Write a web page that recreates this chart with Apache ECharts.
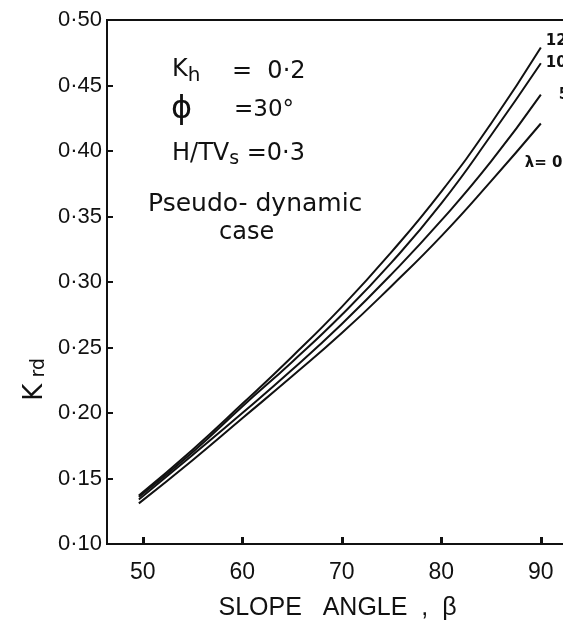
<!DOCTYPE html>
<html><head><meta charset="utf-8">
<script src="https://cdn.jsdelivr.net/npm/echarts@6/dist/echarts.min.js"></script>
<style>html,body{margin:0;padding:0;background:#fff}#c{width:563px;height:620px}</style>
</head><body><div id="c"></div>
<script>
const betaValues = [49.6, 55, 60, 65, 70, 75, 80, 85, 90];
const kLambda12 = [0.137, 0.172, 0.207, 0.243, 0.281, 0.323, 0.369, 0.421, 0.479];
const kLambda10 = [0.136, 0.170, 0.205, 0.239, 0.275, 0.315, 0.360, 0.412, 0.467];
const kLambda5  = [0.134, 0.168, 0.200, 0.233, 0.268, 0.306, 0.347, 0.392, 0.443];
const kLambda0  = [0.131, 0.164, 0.196, 0.228, 0.261, 0.297, 0.335, 0.377, 0.421];
const curveLabels = ['12', '10', '5', 'λ= 0'];
const xTicks = [50, 60, 70, 80, 90];
const yTickLabels = ['0·10','0·15','0·20','0·25','0·30','0·35','0·40','0·45','0·50'];

const FONT = 'DejaVu Sans';
const TICKFONT = 'Liberation Sans';
const chart = echarts.init(document.getElementById('c'), null, {renderer: 'canvas'});
const allK = [kLambda12, kLambda10, kLambda5, kLambda0];
const labelOffsets = [[-3, -6], [-3, 0], [10, 0], [-24, 40]];

const series = allK.map((arr, i) => ({
  type: 'line',
  name: curveLabels[i],
  data: betaValues.map((b, j) => [b, arr[j]]),
  smooth: true,
  showSymbol: false,
  lineStyle: {color: '#111', width: 2},
  endLabel: {
    show: true,
    formatter: curveLabels[i],
    color: '#111',
    fontFamily: FONT,
    fontSize: 15,
    fontWeight: 'bold',
    offset: labelOffsets[i]
  },
  labelLayout: {hideOverlap: false},
  animation: false
}));

chart.setOption({
  backgroundColor: '#fff',
  animation: false,
  grid: {left: 107, right: -5, top: 20, bottom: 76, show: true, borderColor: '#111', borderWidth: 2,
    containLabel: false, outerBoundsMode: 'none'},
  xAxis: {
    type: 'value', min: 46.4, max: 92.73,
    axisLine: {show: true, lineStyle: {color: '#111', width: 2}},
    axisTick: {show: true, inside: true, length: 7, lineStyle: {color: '#111', width: 3}, customValues: xTicks},
    axisLabel: {customValues: xTicks, color: '#111', fontFamily: TICKFONT, fontSize: 23, margin: 17},
    splitLine: {show: false},
    name: 'SLOPE   ANGLE  ,  β',
    nameLocation: 'middle', nameGap: 52,
    nameTextStyle: {color: '#111', fontFamily: TICKFONT, fontSize: 25}
  },
  yAxis: {
    type: 'value', min: 0.10, max: 0.50, interval: 0.05,
    axisLine: {show: true, lineStyle: {color: '#111', width: 2}},
    axisTick: {show: true, inside: true, length: 6, lineStyle: {color: '#111', width: 2}},
    axisLabel: {color: '#111', fontFamily: TICKFONT, fontSize: 22, margin: 5,
      formatter: v => yTickLabels[Math.round((v - 0.10) / 0.05)]},
    splitLine: {show: false}
  },
  graphic: [
    {type: 'text', left: 22, top: 358, rotation: Math.PI / 2,
      style: {text: '{k|K}{s| rd}', rich: {k: {fontSize: 26, fontFamily: FONT, fill: '#111'}, s: {fontSize: 19, fontFamily: FONT, fill: '#111', padding: [9, 0, 0, 0]}}}},
    {type: 'text', left: 172, top: 58,
      style: {text: '{k|K}{s|h}', rich: {k: {fontSize: 24, fontFamily: FONT, fill: '#111'}, s: {fontSize: 20, fontFamily: FONT, fill: '#111', padding: [12, 0, 0, 0]}}}},
    {type: 'text', left: 232, top: 60, style: {text: '=  0·2', fontSize: 24, fontFamily: FONT, fill: '#111'}},
    {type: 'text', left: 171, top: 94, style: {text: 'ϕ', fontSize: 32, fontFamily: FONT, fill: '#111'}},
    {type: 'text', left: 234, top: 99, style: {text: '=30°', fontSize: 23, fontFamily: FONT, fill: '#111'}},
    {type: 'text', left: 172, top: 142,
      style: {text: '{a|H/TV}{s|s}{a| =0·3}', rich: {a: {fontSize: 24, fontFamily: FONT, fill: '#111'}, s: {fontSize: 19, fontFamily: FONT, fill: '#111', padding: [10, 0, 0, 0]}}}},
    {type: 'text', left: 148, top: 192, style: {text: 'Pseudo- dynamic', fontSize: 25, fontFamily: FONT, fill: '#111'}},
    {type: 'text', left: 219, top: 221, style: {text: 'case', fontSize: 24, fontFamily: FONT, fill: '#111'}}
  ],
  series: series
});
</script></body></html>
